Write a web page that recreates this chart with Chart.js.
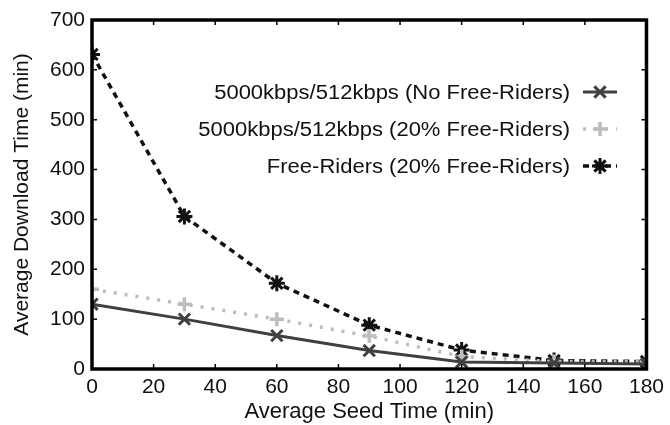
<!DOCTYPE html>
<html>
<head>
<meta charset="utf-8">
<script src="https://cdn.jsdelivr.net/npm/chart.js@4.4.1/dist/chart.umd.min.js"></script>
<style>
html,body{margin:0;padding:0;background:#fff;}
#wrap{width:670px;height:425px;}
</style>
</head>
<body>
<div id="wrap"><canvas id="c" width="670" height="425"></canvas></div>
<script>
const seedTimes = [0, 30, 60, 90, 120, 150, 180];
const noFreeRiders = [130, 100, 67, 37, 14, 12, 10];
const freeRidersNormal = [160, 130, 100, 66, 25, 15, 15];
const freeRidersFR = [631, 306, 172, 88, 38, 17, 15];
const seriesLabels = [
  '5000kbps/512kbps (No Free-Riders)',
  '5000kbps/512kbps (20% Free-Riders)',
  'Free-Riders (20% Free-Riders)'
];
const xTicks = [0, 20, 40, 60, 80, 100, 120, 140, 160, 180];
const yTicks = [0, 100, 200, 300, 400, 500, 600, 700];

const FONT = '"Liberation Sans", Arial, sans-serif';

function pts(arr){ return seedTimes.map((x,i)=>({x:x,y:arr[i]})); }

const framePlugin = {
  id: 'frame',
  afterDatasetsDraw(chart){
    const ctx = chart.ctx, a = chart.chartArea;
    const xs = chart.scales.x, ys = chart.scales.y;
    ctx.save();
    ctx.strokeStyle = '#000';
    ctx.lineWidth = 1.5;
    ctx.beginPath();
    xTicks.forEach(v=>{
      const px = xs.getPixelForValue(v);
      ctx.moveTo(px, a.bottom); ctx.lineTo(px, a.bottom-5);
      ctx.moveTo(px, a.top); ctx.lineTo(px, a.top+5);
    });
    yTicks.forEach(v=>{
      const py = ys.getPixelForValue(v);
      ctx.moveTo(a.left, py); ctx.lineTo(a.left+5, py);
      ctx.moveTo(a.right, py); ctx.lineTo(a.right-5, py);
    });
    ctx.stroke();
    ctx.lineWidth = 3.5;
    ctx.strokeRect(a.left, a.top, a.right-a.left, a.bottom-a.top);
    ctx.restore();
  },
  afterDraw(chart){
    const ctx = chart.ctx;
    const rowsY = [92, 129, 166];
    ctx.save();
    ctx.font = '20px ' + FONT;
    ctx.fillStyle = '#111';
    ctx.textAlign = 'right';
    ctx.textBaseline = 'middle';
    chart.data.datasets.forEach((ds,i)=>{
      const y = rowsY[i];
      ctx.save();
      ctx.translate(570, y+1);
      ctx.scale(1.1, 1);
      ctx.fillText(ds.label, 0, 0);
      ctx.restore();
      ctx.save();
      ctx.strokeStyle = ds.borderColor;
      ctx.lineWidth = ds.borderWidth;
      ctx.setLineDash(ds.borderDash || []);
      ctx.beginPath();
      ctx.moveTo(583, y); ctx.lineTo(617, y);
      ctx.stroke();
      ctx.restore();
      ctx.save();
      ctx.strokeStyle = ds.pointBorderColor;
      ctx.fillStyle = ds.pointBorderColor;
      ctx.lineWidth = ds.pointBorderWidth;
      Chart.helpers.drawPoint(ctx, {pointStyle: ds.pointStyle, radius: ds.pointRadius, borderWidth: ds.pointBorderWidth}, 600, y);
      ctx.restore();
    });
    ctx.restore();
  }
};

new Chart(document.getElementById('c'), {
  type: 'line',
  data: {
    datasets: [
      {
        label: seriesLabels[0],
        data: pts(noFreeRiders),
        borderColor: '#404040',
        borderWidth: 3,
        pointStyle: 'crossRot',
        pointRadius: 8,
        pointBorderWidth: 3,
        pointBorderColor: '#404040',
        pointBackgroundColor: '#404040',
        tension: 0
      },
      {
        label: seriesLabels[1],
        data: pts(freeRidersNormal),
        borderColor: '#bdbdbd',
        borderWidth: 3.5,
        borderDash: [3, 8],
        pointStyle: 'cross',
        pointRadius: 7,
        pointBorderWidth: 3.5,
        pointBorderColor: '#bdbdbd',
        pointBackgroundColor: '#bdbdbd',
        tension: 0
      },
      {
        label: seriesLabels[2],
        data: pts(freeRidersFR),
        borderColor: '#111',
        borderWidth: 3.5,
        borderDash: [6, 5],
        pointStyle: 'star',
        pointRadius: 8,
        pointBorderWidth: 3,
        pointBorderColor: '#111',
        pointBackgroundColor: '#111',
        tension: 0
      }
    ]
  },
  options: {
    responsive: false,
    animation: false,
    layout: { padding: { top: 20, right: 22, left: 0, bottom: 0 } },
    plugins: { legend: { display: false }, tooltip: { enabled: false } },
    scales: {
      x: {
        type: 'linear',
        min: 0, max: 180,
        afterBuildTicks(s){ s.ticks = xTicks.map(v=>({value:v})); },
        afterFit(s){ s.height = 56; },
        grid: { display: false, drawTicks: false },
        border: { display: false },
        ticks: { color: '#111', font: { family: FONT, size: 21 }, padding: 6, maxRotation: 0, autoSkip: false },
        title: { display: true, text: 'Average Seed Time (min)', color: '#111', font: { family: FONT, size: 22 }, padding: { top: 0, bottom: 0 } }
      },
      y: {
        min: 0, max: 700,
        afterBuildTicks(s){ s.ticks = yTicks.map(v=>({value:v})); },
        afterFit(s){ s.width = 92; },
        grid: { display: false, drawTicks: false },
        border: { display: false },
        ticks: { color: '#111', font: { family: FONT, size: 21 }, padding: 7, autoSkip: false },
        title: { display: true, text: 'Average Download Time (min)', color: '#111', font: { family: FONT, size: 21 }, padding: { top: 10, bottom: 0 } }
      }
    }
  },
  plugins: [framePlugin]
});
</script>
</body>
</html>
